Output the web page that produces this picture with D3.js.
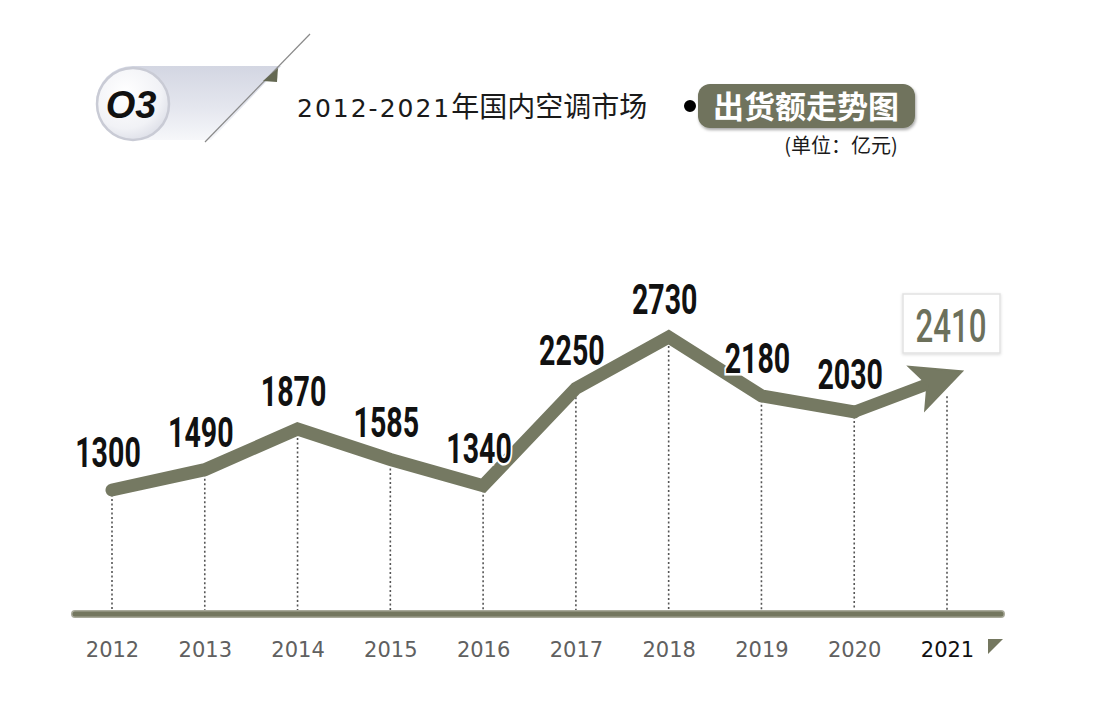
<!DOCTYPE html>
<html><head><meta charset="utf-8">
<script src="https://cdn.jsdelivr.net/npm/d3@7"></script>
<style>
html,body{margin:0;padding:0;background:#fff;}
svg{display:block;}
</style></head>
<body>
<svg id="c" width="1108" height="719"></svg>
<script>
const years = ["2012","2013","2014","2015","2016","2017","2018","2019","2020","2021"];
const values = [1300,1490,1870,1585,1340,2250,2730,2180,2030,2410];
const titleDigits = "2012-2021";
const titleCjk = "年国内空调市场";
const badgeText = "出货额走势图";
const unitText = "(单位：亿元)";
const sectionNo = "O3";

const svg = d3.select("#c");
const olive = "#757962";
const numFont = "Roboto,'DejaVu Sans',sans-serif";
const cjk = "'Noto Sans CJK SC','Noto Sans',sans-serif";

const x = d3.scalePoint().domain(years).range([112, 947]);
const y = d3.scaleLinear().domain([1300, 2730]).range([490, 337]);
const baseY = 614;

const defs = svg.append("defs");
const g1 = defs.append("linearGradient").attr("id","band").attr("x1","0").attr("y1","0").attr("x2","0").attr("y2","1");
g1.append("stop").attr("offset","0").attr("stop-color","#d3d6e2");
g1.append("stop").attr("offset","0.55").attr("stop-color","#e4e6ee");
g1.append("stop").attr("offset","1").attr("stop-color","#f6f7fa");
const g2 = defs.append("radialGradient").attr("id","disc").attr("cx","0.4").attr("cy","0.35").attr("r","0.7");
g2.append("stop").attr("offset","0").attr("stop-color","#ffffff");
g2.append("stop").attr("offset","0.7").attr("stop-color","#f1f2f6");
g2.append("stop").attr("offset","1").attr("stop-color","#dcdee7");
const sh = defs.append("filter").attr("id","sh").attr("x","-20%").attr("y","-20%").attr("width","140%").attr("height","160%");
sh.append("feDropShadow").attr("dx",1).attr("dy",2).attr("stdDeviation",1.5).attr("flood-color","#000").attr("flood-opacity",0.35);
const sh2 = defs.append("filter").attr("id","sh2").attr("x","-20%").attr("y","-20%").attr("width","140%").attr("height","160%");
sh2.append("feDropShadow").attr("dx",0).attr("dy",1).attr("stdDeviation",1.5).attr("flood-color","#000").attr("flood-opacity",0.15);

// header badge
svg.append("path")
  .attr("d","M133,66 L281,66 L211,140 L133,140 A37,37 0 0 1 133,66 Z")
  .attr("fill","url(#band)");
svg.append("circle").attr("cx",133).attr("cy",104).attr("r",36)
  .attr("fill","url(#disc)").attr("stroke","#c9cbd5").attr("stroke-width",2.5);
svg.append("text").attr("x",131).attr("y",118).attr("text-anchor","middle")
  .attr("font-family","'Liberation Sans','DejaVu Sans',sans-serif").attr("font-weight","bold")
  .attr("font-style","italic").attr("font-size",38).attr("fill","#111").text(sectionNo);
svg.append("line").attr("x1",205).attr("y1",142).attr("x2",310).attr("y2",34)
  .attr("stroke","#8a8a8a").attr("stroke-width",1.2);
svg.append("path").attr("d","M263,81 L278,68 L277,82 Z").attr("fill","#646852");

// title
const tt = svg.append("text").attr("x",297).attr("y",117).attr("fill","#1a1a1a");
tt.append("tspan").attr("font-family","'DejaVu Sans',sans-serif").attr("font-size",25)
  .attr("letter-spacing",2).text(titleDigits);
tt.append("tspan").attr("font-family",cjk).attr("font-size",28).text(titleCjk);

svg.append("rect").attr("x",698).attr("y",84).attr("width",217).attr("height",44).attr("rx",12)
  .attr("fill","#6f735d").attr("filter","url(#sh)");
svg.append("circle").attr("cx",690).attr("cy",106).attr("r",7).attr("fill","#000")
  .attr("stroke","#fff").attr("stroke-width",2);
svg.append("text").attr("x",806).attr("y",118).attr("text-anchor","middle")
  .attr("font-family",cjk).attr("font-weight","bold").attr("font-size",31).attr("fill","#fff")
  .text(badgeText);
svg.append("text").attr("x",841).attr("y",153).attr("text-anchor","middle")
  .attr("font-family",cjk).attr("font-size",20).attr("fill","#1a1a1a").text(unitText);

// axis baseline
svg.append("line").attr("x1",75).attr("x2",1001).attr("y1",baseY).attr("y2",baseY)
  .attr("stroke","#a9aa9b").attr("stroke-width",8).attr("stroke-linecap","round");
svg.append("line").attr("x1",75).attr("x2",1001).attr("y1",baseY).attr("y2",baseY)
  .attr("stroke","#74775f").attr("stroke-width",5).attr("stroke-linecap","round");

// dotted drop lines
svg.append("g").selectAll("line").data(years).join("line")
  .attr("x1",d=>x(d)).attr("x2",d=>x(d))
  .attr("y1",(d,i)=> i===years.length-1 ? y(values[i])+25 : y(values[i]))
  .attr("y2",baseY-4)
  .attr("stroke","#555").attr("stroke-width",1.6).attr("stroke-dasharray","2,2.5");

// x axis labels
const xAxis = d3.axisBottom(x).tickSize(0).tickPadding(0);
const ax = svg.append("g").attr("transform",`translate(0,${baseY+43})`).call(xAxis);
ax.select(".domain").remove();
ax.selectAll("text").attr("font-family","'DejaVu Sans',sans-serif")
  .attr("font-size",21).attr("fill",(d,i)=> i===years.length-1 ? "#111" : "#606060")
  .attr("dy",0);
svg.append("path").attr("d","M988,639 L1003,639 L988,654 Z").attr("fill","#74775f");

// main line 2012-2020
const n = years.length;
const pts = years.slice(0, n-1).map((d,i)=>[x(d), y(values[i])]);
svg.append("path").datum(pts)
  .attr("d", d3.line())
  .attr("fill","none").attr("stroke",olive).attr("stroke-width",13)
  .attr("stroke-linejoin","miter").attr("stroke-linecap","round");

// arrow 2020 -> 2021
const p0 = [x(years[n-2]), y(values[n-2])];
const tip = [x(years[n-1]) + 15, y(values[n-1])];
const ang = Math.atan2(tip[1]-p0[1], tip[0]-p0[0]);
const headL = 42, headW = 23;
const bx = tip[0] - headL*Math.cos(ang), by = tip[1] - headL*Math.sin(ang);
svg.append("line").attr("x1",p0[0]).attr("y1",p0[1]).attr("x2",bx+6*Math.cos(ang)).attr("y2",by+6*Math.sin(ang))
  .attr("stroke",olive).attr("stroke-width",12).attr("stroke-linecap","round");
const nx = -Math.sin(ang), ny = Math.cos(ang);
svg.append("path")
  .attr("d",`M${tip[0]},${tip[1]} L${bx+headW*nx - 6*Math.cos(ang)},${by+headW*ny - 6*Math.sin(ang)} L${bx+5*Math.cos(ang)},${by+5*Math.sin(ang)} L${bx-headW*nx - 6*Math.cos(ang)},${by-headW*ny - 6*Math.sin(ang)} Z`)
  .attr("fill",olive).attr("stroke",olive).attr("stroke-width",2).attr("stroke-linejoin","miter");

// value labels 2012-2020
svg.append("g").selectAll("text").data(values.slice(0, n-1)).join("text")
  .attr("transform",(d,i)=>`translate(${x(years[i])-4},${y(d)-23}) scale(0.68,1)`)
  .attr("text-anchor","middle")
  .attr("font-family",numFont).attr("font-weight","700").attr("font-size",42)
  .attr("fill","#111").attr("stroke","#fff").attr("stroke-width",5).attr("paint-order","stroke")
  .text(d=>d);

// 2021 highlight box
const lastX = x(years[n-1]);
svg.append("rect").attr("x",lastX-44).attr("y",294).attr("width",97).attr("height",59)
  .attr("fill","#fff").attr("stroke","#e2e2e2").attr("stroke-width",1.5).attr("filter","url(#sh2)");
svg.append("text")
  .attr("transform",`translate(${lastX+4},342) scale(0.68,1)`)
  .attr("text-anchor","middle")
  .attr("font-family",numFont).attr("font-weight","500").attr("font-size",46).attr("fill","#6c705b")
  .text(values[n-1]);
</script>
</body></html>
